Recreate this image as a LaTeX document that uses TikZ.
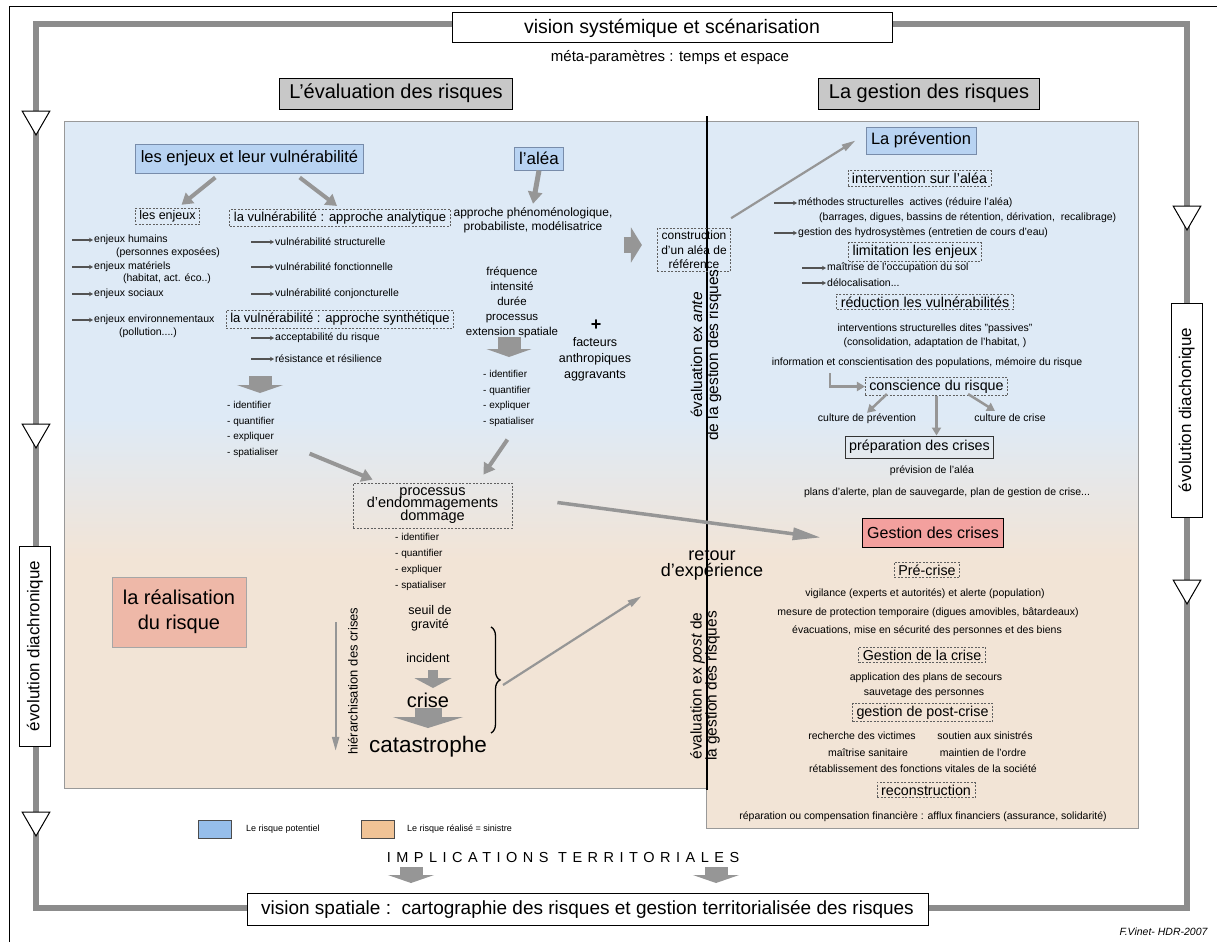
\documentclass[tikz,border=0pt]{standalone}
\usepackage{fontspec}
\setmainfont{Liberation Sans}
\newfontfamily\spacedfont[LetterSpace=38]{Liberation Sans}
\usetikzlibrary{arrows.meta, shapes.geometric, decorations.pathreplacing, calc}

\definecolor{panelblue}{RGB}{222,234,246}
\definecolor{panelpeach}{RGB}{242,228,214}
\definecolor{boxblue}{RGB}{184,211,242}
\definecolor{boxedge}{RGB}{120,140,170}
\definecolor{boxsalmon}{RGB}{243,160,158}
\definecolor{boxrose}{RGB}{238,184,168}
\definecolor{headgray}{RGB}{200,200,200}
\definecolor{loopgray}{RGB}{140,140,140}
\definecolor{arrgray}{RGB}{150,150,150}
\definecolor{legblue}{RGB}{150,190,235}
\definecolor{legorange}{RGB}{240,195,150}
\pgfdeclareverticalshading{panelshade}{100bp}{color(0bp)=(panelpeach); color(44bp)=(panelpeach); color(54bp)=(panelblue); color(100bp)=(panelblue)}

\begin{document}
\begin{tikzpicture}[x=1pt, y=-1pt,
    txt/.style={font=\fontsize{10.5}{12.5}\selectfont, inner sep=1pt},
    dashbox/.style={draw=gray!75!black, dash pattern=on 2pt off 1.5pt, line width=0.8pt, inner xsep=4pt, inner ysep=2.5pt, font=\fontsize{14.3}{16}\selectfont},
    bluebox/.style={draw=boxedge, fill=boxblue, line width=1pt, inner xsep=5pt, inner ysep=3pt},
    headbox/.style={draw, line width=1pt, fill=headgray, minimum height=31pt, inner xsep=10pt, font=\fontsize{20}{24}\selectfont},
    sidebox/.style={draw, line width=1pt, fill=white, rotate=90, minimum height=31pt, font=\fontsize{17}{20}\selectfont},
    tri/.style={regular polygon, regular polygon sides=3, shape border rotate=180, draw, line width=1pt, fill=white, minimum size=32pt, inner sep=0pt},
    loopline/.style={draw=loopgray, line width=6.5pt},
    fatarr/.style={draw=arrgray, line width=4pt, -{Triangle[length=11pt,width=13pt]}},
    medarr/.style={draw=arrgray, line width=2.5pt, -{Triangle[length=8pt,width=9pt]}},
    thinarr/.style={draw=arrgray, line width=2.2pt, -{Triangle[length=14pt,width=7pt]}},
    blockarr/.style={draw=arrgray},
    smallarr/.style={draw=gray!65!black, line width=1.3pt, -{Stealth[length=4pt,width=4.5pt]}}]
  \useasboundingbox (0,0) rectangle (1217,942);

  % page frame and the time/space loop
  \draw[line width=0.8pt] (9,942) -- (9,6) -- (1217,6);
  \shadedraw[shading=panelshade, draw=gray!80, line width=1pt] (64,121) -- (1138,121) -- (1138,828) -- (706,828) -- (706,788) -- (64,788) -- cycle;
  \draw[line width=1.2pt] (707,116) -- (707,790);
  \draw[loopline] (36,24) rectangle (1187,908);

  \node[draw, line width=1pt, fill=white, minimum width=440pt, minimum height=30pt, font=\fontsize{19.5}{24}\selectfont] (vision) at (672,28) {vision systémique et scénarisation};
  \node[font=\fontsize{15}{18}\selectfont] (meta) at (670,58) {méta-paramètres : temps et espace};
  \node[headbox] (evalrisk) at (396,93.5) {L'évaluation des risques};
  \node[headbox] (gestrisk) at (929,93.5) {La gestion des risques};

  \node[tri] (tria) at (36,119) {};
  \node[tri] (trib) at (36,432) {};
  \node[tri] (tric) at (36,820) {};
  \node[sidebox, minimum width=200pt] (dialeft) at (35,646) {évolution diachronique};
  \node[tri] (trid) at (1187,214) {};
  \node[tri] (trie) at (1187,588) {};
  \node[sidebox, minimum width=214pt] (diaright) at (1186.5,410) {évolution diachonique};

  % left part: stakes and vulnerability
  \node[bluebox, minimum height=29pt, font=\fontsize{16.5}{20}\selectfont] (enjeux) at (249.5,158.5) {les enjeux et leur vulnérabilité};
  \node[dashbox, font=\fontsize{12.5}{15}\selectfont] (lesenj) at (167.5,216.5) {les enjeux};
  \node[dashbox, font=\fontsize{13}{15}\selectfont] (vulana) at (340,218) {la vulnérabilité : approche analytique};
  \draw[fatarr] ($(enjeux.south west)+(80,4)$) -- ($(lesenj.north)+(14,-3)$);
  \draw[fatarr] ($(enjeux.south east)+(-64,4)$) -- ($(vulana.north)+(-3,-3)$);

  \node[txt, anchor=west] (hum) at (93,240) {enjeux humains};
  \node[txt] (humb) at (168,253) {(personnes exposées)};
  \node[txt, anchor=west] (mat) at (93,267) {enjeux matériels};
  \node[txt] (matb) at (167,279) {(habitat, act. éco..)};
  \node[txt, anchor=west] (soc) at (93,294) {enjeux sociaux};
  \node[txt, anchor=west] (env) at (93,320) {enjeux environnementaux};
  \node[txt] (envb) at (148,333) {(pollution....)};
  \draw[smallarr] ([xshift=-21pt]hum.west) -- (hum.west);
  \draw[smallarr] ([xshift=-21pt]mat.west) -- (mat.west);
  \draw[smallarr] ([xshift=-21pt]soc.west) -- (soc.west);
  \draw[smallarr] ([xshift=-21pt]env.west) -- (env.west);

  \node[txt, anchor=west] (vstruct) at (274,242) {vulnérabilité structurelle};
  \node[txt, anchor=west] (vfonc) at (274,267) {vulnérabilité fonctionnelle};
  \node[txt, anchor=west] (vconj) at (274,294) {vulnérabilité conjoncturelle};
  \node[dashbox, font=\fontsize{13}{15}\selectfont] (vulsyn) at (340,319.5) {la vulnérabilité : approche synthétique};
  \node[txt, anchor=west] (accept) at (274,338) {acceptabilité du risque};
  \node[txt, anchor=west] (resil) at (274,359) {résistance et résilience};
  \draw[smallarr] ([xshift=-23pt]vstruct.west) -- (vstruct.west);
  \draw[smallarr] ([xshift=-23pt]vfonc.west) -- (vfonc.west);
  \draw[smallarr] ([xshift=-23pt]vconj.west) -- (vconj.west);
  \draw[smallarr] ([xshift=-23pt]accept.west) -- (accept.west);
  \draw[smallarr] ([xshift=-23pt]resil.west) -- (resil.west);

  \draw[blockarr, line width=23pt, -{Triangle[length=8pt,width=46pt]}] (260,376) -- (260,393);
  \node[txt, anchor=north west, align=left, font=\fontsize{10}{15.7}\selectfont] (idleft) at (226,400) {- identifier\\- quantifier\\- expliquer\\- spatialiser};

  % middle: hazard
  \node[bluebox, minimum height=23pt, font=\fontsize{17}{20}\selectfont] (alea) at (539,158.5) {l'aléa};
  \node[align=center, font=\fontsize{12}{14}\selectfont] (approche) at (533,220) {approche phénoménologique,\\probabiliste, modélisatrice};
  \draw[fatarr, line width=5pt, -{Triangle[length=12pt,width=14pt]}] (alea.south) -- (approche.north);
  \node[dashbox, align=center, font=\fontsize{12}{14.5}\selectfont] (construct) at (694,250) {construction\\d'un aléa de\\référence};
  \draw[blockarr, line width=16pt, -{Triangle[length=11pt,width=35pt]}] ($(construct.west)+(-33,-5)$) -- ($(construct.west)+(-15,-5)$);

  \node[align=center, font=\fontsize{11.5}{15}\selectfont] (freq) at (512,302) {fréquence\\intensité\\durée\\processus\\extension spatiale};
  \node[font=\bfseries\fontsize{18}{20}\selectfont] (plus) at (596,325) {+};
  \node[align=center, font=\fontsize{12.5}{16}\selectfont] (facteurs) at (595,359) {facteurs\\anthropiques\\aggravants};
  \draw[blockarr, line width=23pt, -{Triangle[length=8pt,width=45pt]}] (509,337) -- (509,357);
  \node[txt, anchor=north west, align=left, font=\fontsize{10}{15.6}\selectfont] (idmid) at (482,369) {- identifier\\- quantifier\\- expliquer\\- spatialiser};

  % damage and crisis
  \node[dashbox, align=center, minimum width=159pt, minimum height=45pt, font=\fontsize{14.5}{12.5}\selectfont\setlength{\lineskiplimit}{-20pt}] (proc) at (432.5,505.5) {processus\\d'endommagements\\dommage};
  \draw[fatarr] ($(proc.north west)+(-43,-29)$) -- ($(proc.north west)+(20,-3)$);
  \draw[fatarr] ($(proc.north east)+(-5,-43)$) -- ($(proc.north east)+(-29,-8)$);
  \node[txt, anchor=north west, align=left, font=\fontsize{10}{16}\selectfont] (idproc) at (394,532) {- identifier\\- quantifier\\- expliquer\\- spatialiser};
  \node[align=center, font=\fontsize{12.5}{14}\selectfont] (seuil) at (430,618) {seuil de\\gravité};
  \node[font=\fontsize{12.5}{14}\selectfont] (incid) at (428,658) {incident};
  \node[font=\fontsize{20}{22}\selectfont] (crise) at (428,700) {crise};
  \node[font=\fontsize{22.5}{25}\selectfont] (catas) at (428,747) {catastrophe};
  \draw[blockarr, line width=10pt, -{Triangle[length=10pt,width=37pt]}] (433,670) -- (433,688);
  \draw[blockarr, line width=27pt, -{Triangle[length=11pt,width=70pt]}] (428,708) -- (428,728);
  \draw[decorate, decoration={brace, amplitude=9pt}, line width=1.3pt] (491,627) -- (491,733);
  \coordinate (bracetip) at (503,685);

  \node[rotate=90, font=\fontsize{13}{15}\selectfont] (hier) at (353,681) {hiérarchisation des crises};
  \draw[thinarr] ($(hier.north east)+(-9,18)$) -- ($(hier.north west)+(-9,-7)$);

  \node[draw=gray!70, fill=boxrose, align=center, minimum width=134pt, minimum height=70pt, font=\fontsize{20}{25}\selectfont] (realis) at (179,612) {la réalisation\\du risque};

  \node[align=center, font=\fontsize{18}{16}\selectfont\setlength{\lineskiplimit}{-20pt}] (retour) at (712,565) {retour\\d'expérience};
  \draw[thinarr] (bracetip) -- ($(retour.south west)+(-16,12)$);

  \node[rotate=90, align=center, font=\fontsize{15.5}{16}\selectfont] (exante) at (706,355) {évaluation ex \textit{ante}\\de la gestion des risques};
  \node[rotate=90, align=center, font=\fontsize{15.5}{15}\selectfont] (expost) at (705,686) {évaluation ex \textit{post} de\\la gestion des risques};

  % right part: prevention
  \node[bluebox, minimum height=27pt, font=\fontsize{16.5}{20}\selectfont] (prev) at (921,140.5) {La prévention};
  \draw[thinarr] ($(construct.north east)+(0,-10)$) -- ($(prev.west)+(-10,0)$);
  \node[dashbox] (interv) at (919.5,178.5) {intervention sur l'aléa};
  \node[txt, anchor=west] (meth) at (797,203) {méthodes structurelles\ \ actives (réduire l'aléa)};
  \node[txt, anchor=west] (barr) at (818,218) {(barrages, digues, bassins de rétention, dérivation,\ \ recalibrage)};
  \node[txt, anchor=west] (hydro) at (797,233) {gestion des hydrosystèmes (entretien de cours d'eau)};
  \draw[smallarr] ([xshift=-23pt]meth.west) -- (meth.west);
  \draw[smallarr] ([xshift=-23pt]hydro.west) -- (hydro.west);
  \node[dashbox] (limit) at (915,252) {limitation les enjeux};
  \node[txt, anchor=west] (maitr) at (826,268) {maîtrise de l'occupation du sol};
  \node[txt, anchor=west] (deloc) at (826,283) {délocalisation...};
  \draw[smallarr] ([xshift=-24pt]maitr.west) -- (maitr.west);
  \draw[smallarr] ([xshift=-24pt]deloc.west) -- (deloc.west);
  \node[dashbox] (reduc) at (925,302) {réduction les vulnérabilités};
  \node[txt, align=center, font=\fontsize{10.5}{14}\selectfont] (passiv) at (935,336) {interventions structurelles dites "passives"\\(consolidation, adaptation de l'habitat, )};
  \node[txt] (info) at (927,363) {information et conscientisation des populations, mémoire du risque};
  \node[dashbox] (consc) at (936.5,386.5) {conscience du risque};
  \coordinate (lturn) at (830,373);
  \draw[medarr] (lturn) |- (consc.west);
  \node[txt] (cprev) at (867,419) {culture de prévention};
  \node[txt] (ccrise) at (1010,418) {culture de crise};
  \node[draw=gray!40!black, line width=1pt, inner xsep=4pt, minimum height=22pt, font=\fontsize{14.3}{16}\selectfont] (prep) at (919.5,447) {préparation des crises};
  \draw[medarr] ($(consc.south west)+(22,-2)$) -- (cprev.north);
  \draw[medarr] (consc.south) -- (consc.south |- prep.north);
  \draw[medarr] ($(consc.south east)+(-40,-2)$) -- ($(ccrise.north)+(-15,-2)$);
  \node[txt] (previs) at (932,471) {prévision de l'aléa};
  \node[txt] (plans) at (947,493) {plans d'alerte, plan de sauvegarde, plan de gestion de crise...};

  % right part: crisis management
  \node[draw, line width=1pt, fill=boxsalmon, minimum height=29pt, inner xsep=5pt, font=\fontsize{16}{20}\selectfont] (gestcrise) at (933,532.5) {Gestion des crises};
  \draw[fatarr, line width=3.5pt, -{Triangle[length=28pt,width=12pt]}] ($(proc.east)+(45,-3)$) -- ($(gestcrise.west)+(-41,5)$);
  \node[dashbox] (precrise) at (927,570) {Pré-crise};
  \node[txt] (vigil) at (925,594) {vigilance (experts et autorités) et alerte (population)};
  \node[txt] (mesure) at (928,613) {mesure de protection temporaire (digues amovibles, bâtardeaux)};
  \node[txt] (evac) at (927,631) {évacuations, mise en sécurité des personnes et des biens};
  \node[dashbox] (gcrise) at (922,655) {Gestion de la crise};
  \node[txt] (applic) at (926,678) {application des plans de secours};
  \node[txt] (sauvet) at (924,693) {sauvetage des personnes};
  \node[dashbox] (postcrise) at (922.5,712.5) {gestion de post-crise};
  \node[txt] (recher) at (862,736) {recherche des victimes};
  \node[txt] (soutien) at (985,736) {soutien aux sinistrés};
  \node[txt] (sanit) at (868,753) {maîtrise sanitaire};
  \node[txt] (ordre) at (983,753) {maintien de l'ordre};
  \node[txt] (retab) at (923,769) {rétablissement des fonctions vitales de la société};
  \node[dashbox] (reconst) at (926,790) {reconstruction};
  \node[txt] (repar) at (923,817) {réparation ou compensation financière : afflux financiers (assurance, solidarité)};

  % legend and spatial vision
  \node[draw=gray!60!black, fill=legblue, minimum width=33pt, minimum height=18pt, inner sep=0pt] (legpot) at (214.5,829) {};
  \node[txt, anchor=west, font=\fontsize{9}{11}\selectfont] (legpottxt) at (245,829) {Le risque potentiel};
  \node[draw=gray!60!black, fill=legorange, minimum width=33pt, minimum height=18pt, inner sep=0pt] (legreal) at (377.5,829) {};
  \node[txt, anchor=west, font=\fontsize{9}{11}\selectfont] (legrealtxt) at (406,829) {Le risque réalisé = sinistre};
  \node[font=\spacedfont\fontsize{14.5}{17}\selectfont] (implic) at (563,857) {IMPLICATIONS TERRITORIALES};
  \draw[blockarr, line width=23pt, -{Triangle[length=8pt,width=46pt]}] (411,867) -- (411,883);
  \draw[blockarr, line width=23pt, -{Triangle[length=8pt,width=46pt]}] (716,867) -- (716,883);
  \node[draw, line width=1pt, fill=white, minimum width=681pt, minimum height=32pt, font=\fontsize{19}{22}\selectfont] (spatial) at (587.5,909) {vision spatiale :\ \ cartographie des risques et gestion territorialisée des risques};
  \node[anchor=east, font=\itshape\fontsize{10.5}{12}\selectfont] (author) at (1211,932) {F.Vinet- HDR-2007};
\end{tikzpicture}
\end{document}
